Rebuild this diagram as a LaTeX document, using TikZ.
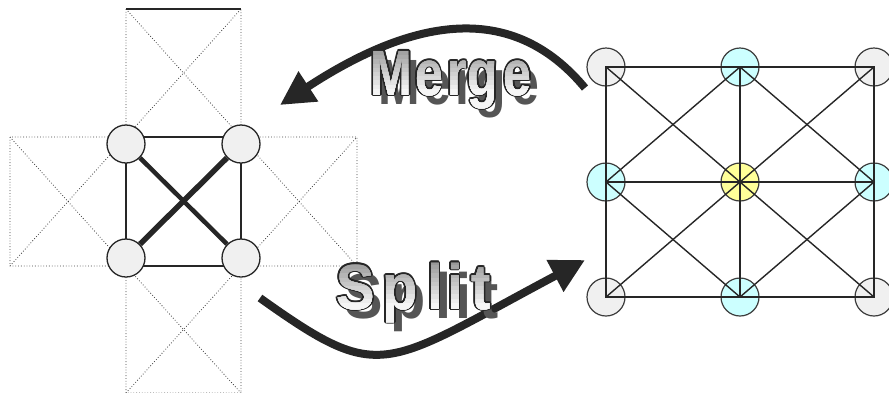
\documentclass[tikz,border=0pt]{standalone}
\usepackage{fontspec}
\setmainfont{Liberation Sans}
\usepackage{graphicx}
\usetikzlibrary{arrows.meta}
\definecolor{ink}{HTML}{262626}
\definecolor{nodegray}{HTML}{F0F0F0}
\definecolor{nodecyan}{HTML}{CCFFFF}
\definecolor{nodeyellow}{HTML}{FFFF99}
\definecolor{shadowgray}{HTML}{555555}
\definecolor{dotgray}{HTML}{404040}
\tikzset{
  dotline/.style={dotgray, line width=0.8pt, dotted},
  thinline/.style={ink, line width=1.4pt},
  lcirc/.style={circle, draw=ink, line width=1.3pt, fill=nodegray, minimum size=38pt, inner sep=0pt},
  gcirc/.style={circle, draw=ink!90, line width=1.2pt, minimum size=38pt, inner sep=0pt},
  gridline/.style={ink, line width=1.4pt},
  bigarrow/.style={ink, line width=8pt, -{Triangle[length=34pt,width=34pt]}},
  wabase/.style={inner sep=0pt, anchor=base, font=\fontsize{64pt}{64pt}\selectfont\bfseries}
}
\newcommand\waletter[5]{%
  \node[wabase, text=shadowgray] (#5s) at (#1+8,#2+9) {\scalebox{#4}[1]{#3}};
  \foreach \ang in {0,30,...,330}
    \node[wabase, text=ink, shift={(\ang:1.8pt)}] at (#1,#2) {\scalebox{#4}[1]{#3}};
  \foreach \k in {0,...,11}{
    \pgfmathtruncatemacro\shadeval{44-3.6*\k}
    \begin{scope}
      \clip (#1-40,#2-52+4.2*\k) rectangle (#1+40,#2+40);
      \node[wabase, text=black!\shadeval] (#5f\k) at (#1,#2) {\scalebox{#4}[1]{#3}};
    \end{scope}
  }
}
\begin{document}
\begin{tikzpicture}[x=1pt,y=-1pt]
\useasboundingbox (0,0) rectangle (889,392);
% ---- left: dotted neighbour cells
\foreach \xa/\ya/\xb/\yb in {126/9/241/137, 10/137/126/266, 241/137/357/266, 126/266/241/393}
  \draw[dotline] (\xa,\ya) rectangle (\xb,\yb) (\xa,\ya) -- (\xb,\yb) (\xa,\yb) -- (\xb,\ya);
\draw[ink, line width=2pt] (126,9) -- (241,9);
% centre cell
\draw[thinline] (126,137) rectangle (241,266);
\node[lcirc] (a) at (126,144) {};
\node[lcirc] (b) at (241,144) {};
\node[lcirc] (c) at (126,258) {};
\node[lcirc] (d) at (241,258) {};
\draw[ink, line width=4.5pt] (a) -- (d);
\draw[ink, line width=5.5pt] (c) -- (b);
% ---- right grid
\node[gcirc, fill=nodegray]   (g11) at (606,67) {};
\node[gcirc, fill=nodecyan]   (g12) at (740,67) {};
\node[gcirc, fill=nodegray]   (g13) at (874,67) {};
\node[gcirc, fill=nodecyan]   (g21) at (606,182) {};
\node[gcirc, fill=nodeyellow] (g22) at (740,182) {};
\node[gcirc, fill=nodecyan]   (g23) at (874,182) {};
\node[gcirc, fill=nodegray]   (g31) at (606,297) {};
\node[gcirc, fill=nodecyan]   (g32) at (740,297) {};
\node[gcirc, fill=nodegray]   (g33) at (874,297) {};
\draw[gridline] (g11.center) -- (g13.center) -- (g33.center) -- (g31.center) -- cycle;
\draw[gridline] (g21.center) -- (g23.center);
\draw[gridline] (g12.center) -- (g32.center);
\draw[gridline] (g11.center) -- (g33.center);
\draw[gridline] (g13.center) -- (g31.center);
\draw[gridline] (g12.center) -- (g21.center) -- (g32.center) -- (g23.center) -- cycle;
% ---- arrows
\coordinate (mS) at (585,88);
\coordinate (mE) at (280,105);
\draw[bigarrow] (mS) .. controls (521,11) and (430.5,6.4) .. (mE);
\coordinate (sS) at (260,298);
\coordinate (sE) at (585,260);
\draw[bigarrow] (sS) .. controls (382,385) and (382,368) .. (sE);
% ---- word art labels
\waletter{391.5}{95}{M}{0.78}{m1}
\waletter{429}{95}{e}{0.78}{m2}
\waletter{457}{95}{r}{0.78}{m3}
\waletter{483}{95}{g}{0.78}{m4}
\waletter{517.5}{95}{e}{0.78}{m5}
\waletter{355.5}{309}{S}{0.9}{s1}
\waletter{400}{309}{p}{0.9}{s2}
\waletter{435}{309}{l}{0.9}{s3}
\waletter{455}{309}{i}{0.9}{s4}
\waletter{481}{309}{t}{0.9}{s5}
\end{tikzpicture}
\end{document}
